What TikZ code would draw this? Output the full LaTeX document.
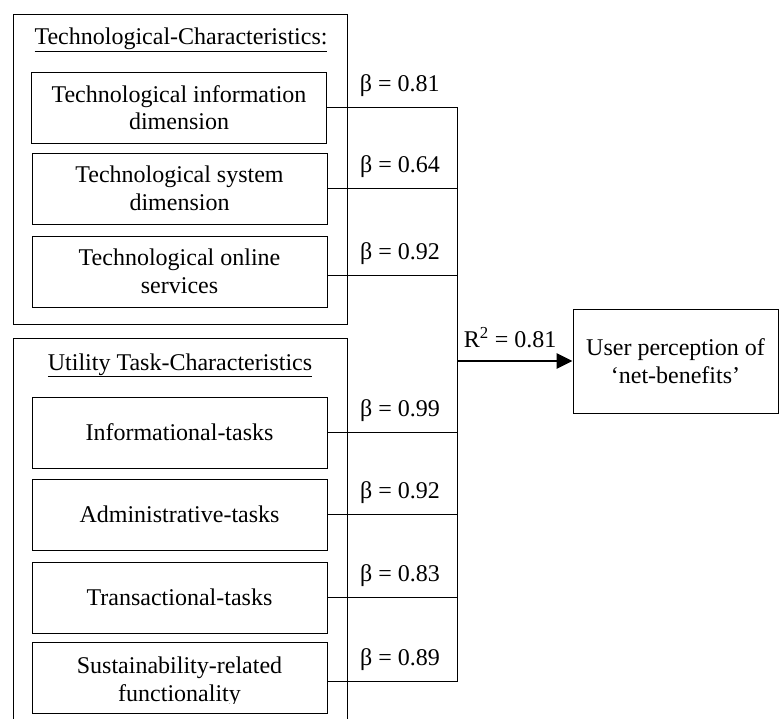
\documentclass[tikz,border=0pt]{standalone}
\usepackage{fontspec}
\setmainfont{Liberation Serif}
\usetikzlibrary{arrows.meta}
\begin{document}
\begin{tikzpicture}[x=1pt,y=-1pt,
  txt/.style={font=\fontsize{24}{27.6}\selectfont, align=center, inner sep=0pt},
  frame/.style={draw, line width=0.8pt, minimum width=334pt, inner sep=0pt},
  itembox/.style={txt, draw, line width=0.8pt, minimum width=295pt, minimum height=71pt},
  link/.style={line width=0.8pt},
  coef/.style={txt, anchor=base, yshift=16pt},
  gain/.style={line width=2.6pt, -{Triangle[length=16pt,width=15pt]}},
]
\useasboundingbox (0,0) rectangle (779,719);
\clip (0,0) rectangle (779,719);

% group frames
\node[frame, minimum height=310pt] (techframe) at (180,169) {};
\node[frame, minimum height=400pt] (taskframe) at (180,538) {};

% group titles
\node[txt, anchor=base] (techtitle) at (181,45) {\underline{Technological-Characteristics:}};
\node[txt, anchor=base] (tasktitle) at (180,370) {\underline{Utility Task-Characteristics}};

% technological characteristics
\node[itembox] (b1) at (179,107.5) {Technological information\\dimension};
\node[itembox] (b2) at (179.5,188.5) {Technological system\\dimension};
\node[itembox] (b3) at (179.5,271.5) {Technological online\\services};

% utility task characteristics
\node[itembox] (b4) at (179.5,432.5) {Informational-tasks};
\node[itembox] (b5) at (179.5,514.5) {Administrative-tasks};
\node[itembox] (b6) at (179.5,597.5) {Transactional-tasks};
\node[itembox] (b7) at (179.5,677.5) {};
\begin{scope}
  \clip (b7.north west) rectangle ([yshift=10pt]b7.south east);
  \node[txt, yshift=-4pt] (b7text) at (b7.center) {Sustainability-related\\functionality};
\end{scope}

% outcome
\node[txt, draw, line width=0.8pt, minimum width=205pt, minimum height=104pt] (nb) at (675.5,361)
  {User perception of\\‘net-benefits’};

% path coefficients into the common bus
\coordinate (bus) at (457,0);
\coordinate (b3o) at ([yshift=-4pt]b3.east);
\coordinate (b7o) at ([yshift=-4pt]b7.east);

\draw[link] (b1.east) -- node[coef, pos=0.56] {β = 0.81} (b1.east -| bus);
\draw[link] (b2.east) -- node[coef, pos=0.56] {β = 0.64} (b2.east -| bus);
\draw[link] (b3o) -- node[coef, pos=0.56] {β = 0.92} (b3o -| bus);
\draw[link] (b4.east) -- node[coef, pos=0.56] {β = 0.99} (b4.east -| bus);
\draw[link] (b5.east) -- node[coef, pos=0.56] {β = 0.92} (b5.east -| bus);
\draw[link] (b6.east) -- node[coef, pos=0.56] {β = 0.83} (b6.east -| bus);
\draw[link] (b7o) -- node[coef, pos=0.56] {β = 0.89} (b7o -| bus);
\draw[link] (b1.east -| bus) -- (b7o -| bus);

% explained variance
\draw[gain] (nb.west -| bus) -- node[txt, anchor=base, yshift=13pt, pos=0.46] {R\textsuperscript{2} = 0.81} (nb.west);
\end{tikzpicture}
\end{document}
